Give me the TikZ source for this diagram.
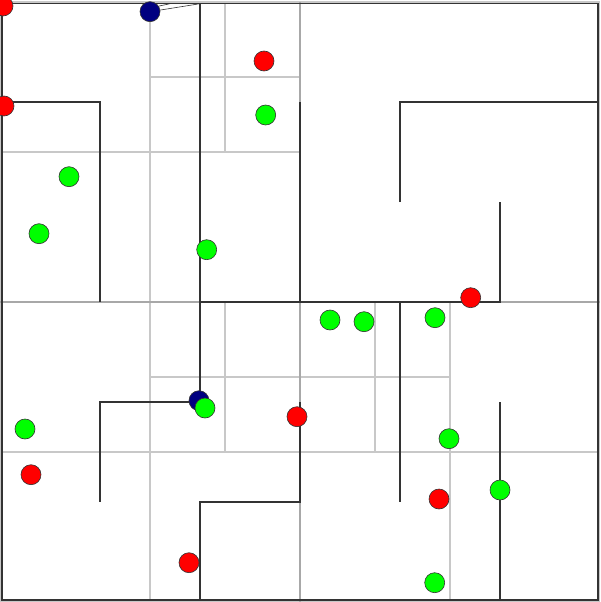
\documentclass[tikz,border=0pt]{standalone}
\usetikzlibrary{backgrounds}
\definecolor{wallc}{HTML}{333333}
\definecolor{gridc}{HTML}{C8C8C8}
\definecolor{gridd}{HTML}{A8A8A8}
\definecolor{navyc}{HTML}{000080}
\tikzset{
  grid/.style={draw=gridc, line width=1.3pt},
  gridmain/.style={draw=gridd, line width=1.3pt},
  wall/.style={draw=wallc, line width=1.6pt},
  dot/.style={circle, draw=wallc, line width=0.6pt, minimum size=20pt, inner sep=0pt},
  reddot/.style={dot, fill=red},
  greendot/.style={dot, fill=green},
  bluedot/.style={dot, fill=navyc},
  ray/.style={draw=wallc, line width=0.6pt}
}
\begin{document}
\begin{tikzpicture}[x=1pt,y=-1pt]
\useasboundingbox (0,0) rectangle (601,602);
% quadtree grid
\draw[grid] (0.6,2) rectangle (599.4,601.4);
\draw[grid] (150,2) -- (150,602);
\draw[grid] (0,152) -- (300,152);
\draw[grid] (0,452) -- (600,452);
\draw[grid] (225,2) -- (225,152);
\draw[grid] (150,77) -- (300,77);
\draw[grid] (225,302) -- (225,452);
\draw[grid] (375,302) -- (375,452);
\draw[grid] (150,377) -- (450,377);
\draw[grid] (450,302) -- (450,602);
\draw[gridmain] (0,302) -- (600,302);
\draw[gridmain] (300,2) -- (300,602);
% rays from top blue agent
\coordinate (t1) at (171,3.5);
\coordinate (t2) at (200,3.7);
\coordinate (b1s) at (150,8);
\coordinate (b1c) at (150,11.7);
\draw[ray] (b1s) -- (t1);
\draw[ray] (b1c) -- (t2);
% walls
\draw[wall] (1.7,3.7) rectangle (597.7,600);
\draw[wall] (1.7,102) -- (100,102) -- (100,302);
\draw[wall] (200,3.7) -- (200,402) -- (100,402) -- (100,502);
\draw[wall] (200,302) -- (500,302) -- (500,202);
\draw[wall] (300,102) -- (300,302);
\draw[wall] (400,202) -- (400,102) -- (597.7,102);
\draw[wall] (400,302) -- (400,502);
\draw[wall] (500,402) -- (500,600);
\draw[wall] (300,402) -- (300,502) -- (200,502) -- (200,600);
% red
\node[reddot] (r1) at (3,6) {};
\node[reddot] (r2) at (4,106) {};
\node[reddot] (r3) at (264,61) {};
\node[reddot] (r4) at (470.7,297.7) {};
\node[reddot] (r5) at (297,416.7) {};
\node[reddot] (r6) at (31,474.7) {};
\node[reddot] (r7) at (189,562.7) {};
\node[reddot] (r8) at (439,499) {};
% blue
\node[bluedot] (b1) at (150,11.7) {};
\node[bluedot] (b2) at (199,400.7) {};
% green
\node[greendot] (g1) at (265.7,115) {};
\node[greendot] (g2) at (69,176.7) {};
\node[greendot] (g3) at (39,233.7) {};
\node[greendot] (g4) at (206.7,249.7) {};
\node[greendot] (g5) at (330,320) {};
\node[greendot] (g6) at (364,321.7) {};
\node[greendot] (g7) at (435,317.7) {};
\node[greendot] (g8) at (205,408) {};
\node[greendot] (g9) at (449,438.7) {};
\node[greendot] (g10) at (25,429) {};
\node[greendot] (g11) at (500,490) {};
\node[greendot] (g12) at (434.7,582.7) {};
\end{tikzpicture}
\end{document}
